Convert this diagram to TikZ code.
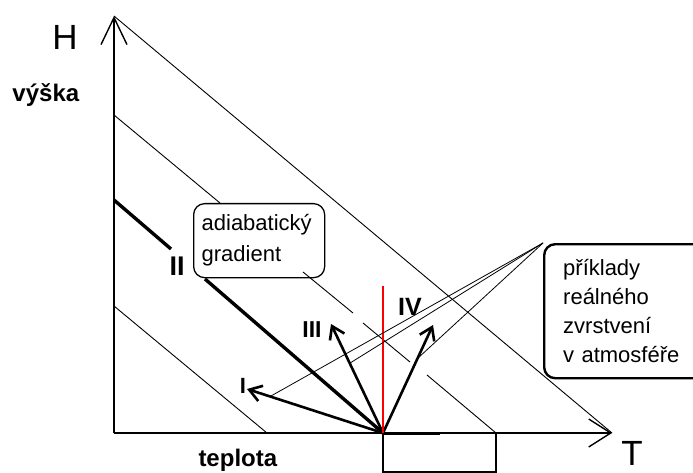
\documentclass[tikz,border=0pt]{standalone}
\usepackage{fontspec}
\setmainfont{Liberation Sans}
\usetikzlibrary{arrows.meta,calc,positioning}

\begin{document}
\begin{tikzpicture}[x=1pt,y=-1pt,line width=1pt,
  adiabat/.style={line width=0.9pt},
  axis/.style={line width=1.4pt},
  profile/.style={line width=2.6pt,-{Straight Barb[length=12pt,width=16pt]}},
  pointer/.style={line width=0.8pt},
  textbox/.style={draw,rounded corners=11pt,align=left,anchor=north west,inner ysep=0pt},
  romlabel/.style={font=\bfseries\fontsize{22}{22}\selectfont,inner sep=0pt},
  axislabel/.style={font=\fontsize{35}{35}\selectfont,inner sep=0pt},
  axisname/.style={font=\bfseries\fontsize{24}{24}\selectfont,inner sep=0pt}]

  \useasboundingbox (0,0) rectangle (693,473);
  \clip (0,0) rectangle (693,473);

  % axes
  \coordinate (orig) at (114,433);
  \coordinate (Htip) at (114,16);
  \coordinate (Ttip) at (612,433);
  \draw[axis,-{Straight Barb[length=27pt,width=26pt]}] (orig) -- (Htip);
  \draw[axis,-{Straight Barb[length=22pt,width=28pt]}] (orig) -- (Ttip);

  % dry adiabats
  \draw[adiabat] (Htip) -- (Ttip);
  \draw[adiabat] (114,115) -- (220,203);
  \draw[adiabat] (303,272) -- (353,313);
  \draw[adiabat] (363,323) -- (410,362);
  \draw[adiabat] (427,375) -- (496,433);
  \draw[adiabat] (114,306) -- (267,433);

  % box under the axis
  \draw[line width=1.2pt] (383,433) rectangle (496,472);

  % profiles from the ground
  \coordinate (O) at (383,433);
  \coordinate (tipI) at (247,389);
  \coordinate (tipIII) at (331,324);
  \coordinate (tipIV) at (433,325);
  \draw[line width=3.4pt] (114,200) -- (171,249);
  \draw[line width=3.4pt] (205,279) -- (O);
  \draw[profile] (O) -- (tipI);
  \draw[profile] (O) -- (tipIII);
  \draw[profile] (O) -- (tipIV);
  \draw[line width=3pt] (O) -- (440,433);
  \draw[red,line width=1.1pt] (O) -- (383,286);

  \node[romlabel] (labI) at (243,386) {I};
  \node[romlabel,font=\bfseries\fontsize{27}{27}\selectfont] (labII) at (177,266) {II};
  \node[romlabel,font=\bfseries\fontsize{23}{23}\selectfont] (labIII) at (312,330) {III};
  \node[romlabel,font=\bfseries\fontsize{25}{25}\selectfont] (labIV) at (410,307) {IV};

  % boxes
  \node[textbox,line width=1.3pt,font=\fontsize{22}{31}\selectfont,
        text width=115pt,inner xsep=8pt,minimum width=131pt,minimum height=74pt]
        (adiab) at (193,203) {adiabatický\\gradient};
  \node[textbox,line width=2.4pt,font=\fontsize{22}{29}\selectfont,
        text width=122pt,inner xsep=19pt,minimum width=160pt,minimum height=134pt]
        (real) at (543,243) {příklady\\reálného\\zvrstvení\\v atmosféře};

  \draw[pointer] (real.north west) -- ($(O)!0.83!(tipI)$);
  \draw[pointer] (real.north west) -- ($(O)!0.64!(tipIII)$);
  \draw[pointer] (real.north west) -- ($(O)!0.69!(tipIV)$);

  % axis labels
  \node[axislabel,anchor=north] (Hlab) at (65,25) {H};
  \node[axislabel,anchor=north] (Tlab) at (632,441) {T};
  \node[axisname,anchor=base west] (vyska) at (12,102) {výška};
  \node[axisname,anchor=base west] (teplota) at (198,466) {teplota};
\end{tikzpicture}
\end{document}
